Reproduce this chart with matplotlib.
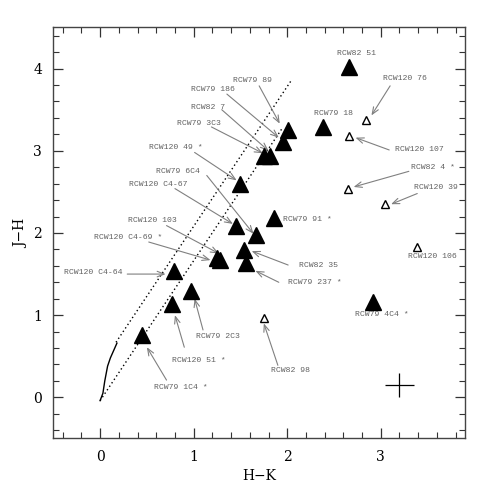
import matplotlib
matplotlib.use("Agg")
import matplotlib.pyplot as plt
from matplotlib.ticker import MultipleLocator

# filled triangles (sources with IR excess candidates)
fill_hk = [2.66, 2.38, 2.01, 1.95, 1.82, 1.75, 1.49, 1.45, 1.67, 1.86, 1.25, 1.28,
           1.54, 1.56, 0.79, 0.97, 0.77, 0.45, 2.92]
fill_jh = [4.02, 3.29, 3.25, 3.11, 2.94, 2.94, 2.60, 2.09, 1.97, 2.18, 1.70, 1.67,
           1.79, 1.63, 1.54, 1.30, 1.13, 0.76, 1.16]

# open triangles
open_hk = [2.84, 2.66, 2.65, 3.05, 3.39, 1.75]
open_jh = [3.38, 3.18, 2.54, 2.35, 1.83, 0.97]

# intrinsic colour locus and reddening lines
locus_hk = [0.0, 0.03, 0.05, 0.08, 0.11, 0.18]
locus_jh = [-0.04, 0.05, 0.20, 0.38, 0.48, 0.66]
redd_upper = ([0.17, 2.04], [0.67, 3.85])
redd_lower = ([0.0, 1.95], [-0.04, 3.28])

# labels: name, text position, arrow tail, arrow head (None = no arrow)
labels = [
    ("RCW82 51", (2.74, 4.18), None, None),
    ("RCW120 76", (3.26, 3.88), (3.10, 3.79), (2.90, 3.43)),
    ("RCW79 18", (2.49, 3.45), None, None),
    ("RCW120 107", (3.41, 3.01), (3.09, 3.01), (2.73, 3.16)),
    ("RCW82 4 *", (3.56, 2.80), (3.30, 2.75), (2.71, 2.56)),
    ("RCW120 39", (3.59, 2.55), (3.39, 2.48), (3.11, 2.35)),
    ("RCW120 106", (3.55, 1.71), None, None),
    ("RCW79 4C4 *", (3.01, 1.01), None, None),
    ("RCW82 98", (2.03, 0.33), (1.90, 0.39), (1.75, 0.90)),
    ("RCW82 35", (2.33, 1.61), (2.01, 1.61), (1.62, 1.78)),
    ("RCW79 237 *", (2.30, 1.40), (1.91, 1.40), (1.66, 1.54)),
    ("RCW79 2C3", (1.26, 0.74), (1.10, 0.82), (1.01, 1.20)),
    ("RCW120 51 *", (1.05, 0.45), (0.90, 0.61), (0.80, 1.00)),
    ("RCW79 1C4 *", (0.86, 0.12), (0.71, 0.21), (0.50, 0.61)),
    ("RCW120 C4-64", (-0.07, 1.52), (0.29, 1.50), (0.70, 1.50)),
    ("RCW120 C4-69 *", (0.30, 1.95), (0.52, 1.89), (1.18, 1.67)),
    ("RCW120 103", (0.56, 2.15), (0.71, 2.09), (1.27, 1.75)),
    ("RCW120 C4-67", (0.62, 2.59), (0.80, 2.54), (1.42, 2.11)),
    ("RCW79 6C4", (0.83, 2.75), (1.14, 2.70), (1.64, 1.99)),
    ("RCW120 49 *", (0.81, 3.04), (1.01, 2.98), (1.46, 2.64)),
    ("RCW79 3C3", (1.06, 3.33), (1.19, 3.29), (1.74, 2.97)),
    ("RCW82 7", (1.155, 3.53), (1.30, 3.50), (1.80, 3.00)),
    ("RCW79 186", (1.21, 3.74), (1.355, 3.69), (1.91, 3.16)),
    ("RCW79 89", (1.63, 3.86), (1.70, 3.79), (1.92, 3.33)),
]
# this one sits just right of its triangle
side_label = ("RCW79 91 *", (1.95, 2.17))

# typical error cross
err_hk, err_jh, err_size = 3.20, 0.15, 0.15

fig = plt.figure(figsize=(4.91, 4.91), dpi=100)
ax = fig.add_axes([0.1086, 0.107, 0.8384, 0.837])

ax.plot(locus_hk, locus_jh, color="black", lw=1.0)
ax.plot(*redd_upper, color="black", lw=1.0, ls=(0, (1, 2)))
ax.plot(*redd_lower, color="black", lw=1.0, ls=(0, (1, 2)))

grey = "#606060"
lab_font = dict(fontsize=5.9, family="Liberation Mono", color=grey)
for name, txt, tail, head in labels:
    ax.text(txt[0], txt[1], name, ha="center", va="center", **lab_font)
    if tail is not None:
        ax.annotate("", xy=head, xytext=tail,
                    arrowprops=dict(arrowstyle="->,head_length=0.5,head_width=0.2",
                                    color="#808080", lw=0.8, shrinkA=0, shrinkB=0))
ax.text(side_label[1][0], side_label[1][1], side_label[0], ha="left",
        va="center", **lab_font)

ax.plot(fill_hk, fill_jh, ls="none", marker="^", ms=11, color="black", zorder=5)
ax.plot(open_hk, open_jh, ls="none", marker="^", ms=6, mfc="white",
        mec="black", mew=1.0, zorder=5)

ax.errorbar(err_hk, err_jh, xerr=err_size, yerr=err_size, fmt="none",
            ecolor="black", elinewidth=0.9, capsize=0)

ax.set_xlim(-0.5, 3.9)
ax.set_ylim(-0.5, 4.5)
ax.xaxis.set_major_locator(MultipleLocator(1))
ax.xaxis.set_minor_locator(MultipleLocator(0.2))
ax.yaxis.set_major_locator(MultipleLocator(1))
ax.yaxis.set_minor_locator(MultipleLocator(0.2))
ax.tick_params(which="both", direction="in", top=True, right=True,
               color="#333333", labelsize=10, pad=8)
ax.tick_params(which="major", length=7, width=0.9)
ax.tick_params(which="minor", length=4, width=0.8)
for lab in ax.get_xticklabels() + ax.get_yticklabels():
    lab.set_family("DejaVu Serif")
for sp in ax.spines.values():
    sp.set_linewidth(1.0)
    sp.set_color("#444444")

ax.set_xlabel("H\u2212K", fontsize=10, family="DejaVu Serif", labelpad=4)
ax.set_ylabel("J\u2212H", fontsize=10, family="DejaVu Serif", labelpad=4)

fig.savefig("out.png", dpi=100)
